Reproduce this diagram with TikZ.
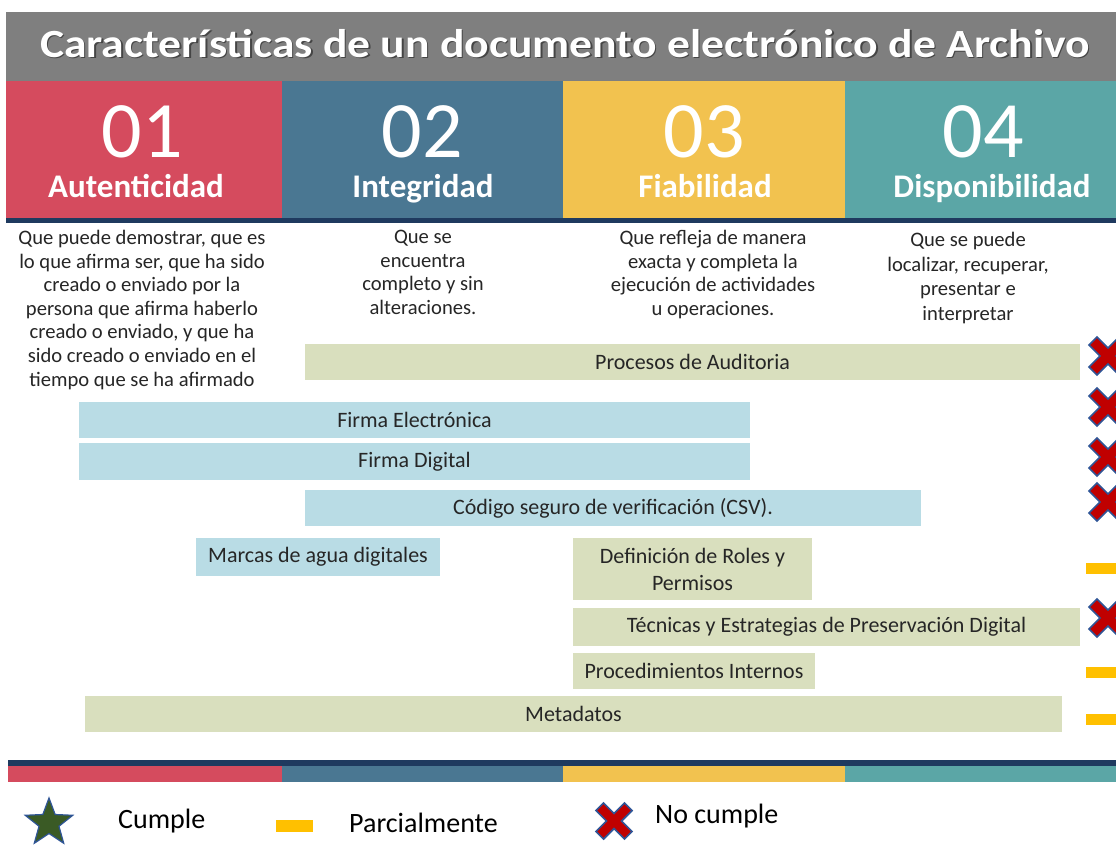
\documentclass[tikz,border=0pt]{standalone}
\usepackage{fontspec}
\setmainfont{Carlito}
\definecolor{titlegray}{HTML}{7F7F7F}
\definecolor{cred}{HTML}{D54B5E}
\definecolor{cblue}{HTML}{4A7792}
\definecolor{cyellow}{HTML}{F2C24F}
\definecolor{cteal}{HTML}{5BA6A6}
\definecolor{navy}{HTML}{1F3A5F}
\definecolor{barblue}{HTML}{B9DCE5}
\definecolor{bargreen}{HTML}{D9DFBE}
\definecolor{xred}{HTML}{C00000}
\definecolor{xblue}{HTML}{2F5597}
\definecolor{dashy}{HTML}{FFC000}
\definecolor{stargreen}{HTML}{3A5A25}
\definecolor{txt}{HTML}{262626}
\newcommand{\titletext}{\scalebox{1.14}[1]{Características de un documento electrónico de Archivo}}
\tikzset{
  bigtitle/.style={font=\fontsize{40}{42}\selectfont\bfseries, text=white, inner sep=0pt, anchor=base},
  titleshadow/.style={font=\fontsize{40}{42}\selectfont\bfseries, text=black, opacity=0.45, inner sep=0pt, anchor=base},
  numtxt/.style={font=\fontsize{80}{80}\selectfont, text=white, inner sep=0pt, anchor=base},
  labtxt/.style={font=\fontsize{33}{35}\selectfont\bfseries, text=white, inner sep=0pt, anchor=base},
  desctxt/.style={font=\fontsize{20.6}{23.6}\selectfont, text=txt, inner sep=0pt, align=center, anchor=north},
  bar/.style={inner sep=0pt, font=\fontsize{22}{26}\selectfont, text=txt, align=center},
  bluebar/.style={bar, fill=barblue},
  greenbar/.style={bar, fill=bargreen},
  nocross/.pic={\filldraw[fill=xred, draw=xblue, line width=1.6pt, line join=miter]
    (0,-8)--(11,-19)--(19,-11)--(8,0)--(19,11)--(11,19)--(0,8)--(-11,19)--(-19,11)--(-8,0)--(-19,-11)--(-11,-19)--cycle;},
  partial/.style={fill=dashy, draw=none},
  legtxt/.style={font=\fontsize{28}{30}\selectfont, text=black, inner sep=0pt, anchor=west}
}
\begin{document}
\begin{tikzpicture}[x=1pt,y=-1pt]
\useasboundingbox (0,0) rectangle (1116,844);
\clip (0,0) rectangle (1116,844);
\fill[white] (0,0) rectangle (1116,844);
% title bar
\fill[titlegray] (6,12) rectangle (1116,81);
\node[titleshadow] at (566.5,58.5) {\titletext};
\node[bigtitle] (title) at (565,57) {\titletext};
% tiles
\fill[cred] (6,81) rectangle (282,218);
\fill[cblue] (282,81) rectangle (563,218);
\fill[cyellow] (563,81) rectangle (845,218);
\fill[cteal] (845,81) rectangle (1116,218);
\fill[navy] (6,218) rectangle (1116,223);
\node[numtxt] (n1) at (142,157) {01};
\node[numtxt] (n2) at (422,157) {02};
\node[numtxt] (n3) at (704,157) {03};
\node[numtxt] (n4) at (983,157) {04};
\node[labtxt] (l1) at (136,197) {Autenticidad};
\node[labtxt] (l2) at (423,197) {Integridad};
\node[labtxt] (l3) at (705,197) {Fiabilidad};
\node[labtxt] (l4) at (992,197) {Disponibilidad};
% descriptions
\node[desctxt] (d1) at (142,230) {Que puede demostrar, que es\\lo que afirma ser, que ha sido\\creado o enviado por la\\persona que afirma haberlo\\creado o enviado, y que ha\\sido creado o enviado en el\\tiempo que se ha afirmado};
\node[desctxt] (d2) at (423,230) {Que se\\encuentra\\completo y sin\\alteraciones.};
\node[desctxt] (d3) at (713,230) {Que refleja de manera\\exacta y completa la\\ejecución de actividades\\u operaciones.};
\node[desctxt, font=\fontsize{20.6}{24.7}\selectfont] (d4) at (968,232) {Que se puede\\localizar, recuperar,\\presentar e\\interpretar};
% bars
\node[greenbar, minimum width=775pt, minimum height=36pt] (b1) at (692.5,362) {Procesos de Auditoria};
\node[bluebar, minimum width=671pt, minimum height=36pt] (b2) at (414.5,420) {Firma Electrónica};
\node[bluebar, minimum width=671pt, minimum height=37pt] (b3) at (414.5,461.5) {Firma Digital};
\node[bluebar, minimum width=616pt, minimum height=36pt] (b4) at (613,508) {Código seguro de verificación (CSV).};
\node[bluebar, minimum width=244pt, minimum height=38pt] (b5) at (318,557) {Marcas de agua digitales};
\node[greenbar, minimum width=239pt, minimum height=62pt, font=\fontsize{22}{27}\selectfont] (b6) at (692.5,569) {Definición de Roles y\\Permisos};
\node[greenbar, minimum width=507pt, minimum height=38pt] (b7) at (826.5,627) {Técnicas y Estrategias de Preservación Digital};
\node[greenbar, minimum width=242pt, minimum height=36pt] (b8) at (694,671) {Procedimientos Internos};
\node[greenbar, minimum width=977pt, minimum height=36pt] (b9) at (573.5,714) {Metadatos};
% status markers
\pic at (1108,356) {nocross};
\pic at (1108,407) {nocross};
\pic at (1108,457) {nocross};
\pic at (1108,502) {nocross};
\fill[partial] (1086,563) rectangle (1118,574);
\pic at (1108,618) {nocross};
\fill[partial] (1086,667) rectangle (1118,678);
\fill[partial] (1086,714) rectangle (1118,725);
% bottom stripe
\fill[navy] (8,760) rectangle (1116,766);
\fill[cred] (8,766) rectangle (282,782);
\fill[cblue] (282,766) rectangle (563,782);
\fill[cyellow] (563,766) rectangle (845,782);
\fill[cteal] (845,766) rectangle (1116,782);
% legend
\filldraw[fill=stargreen, draw=xblue, line width=1.2pt]
  (49,798) \foreach \i in {1,...,9} {-- ({49+(mod(\i,2)==1 ? 10.5 : 25)*sin(36*\i)}, {823-(mod(\i,2)==1 ? 10.5 : 25)*cos(36*\i)})} -- cycle;
\node[legtxt] (lg1) at (118,821) {Cumple};
\fill[partial] (276,820) rectangle (313,832);
\node[legtxt] (lg2) at (349,823) {Parcialmente};
\pic[scale=0.95] at (614,821) {nocross};
\node[legtxt] (lg3) at (655,816) {No cumple};
\end{tikzpicture}
\end{document}
